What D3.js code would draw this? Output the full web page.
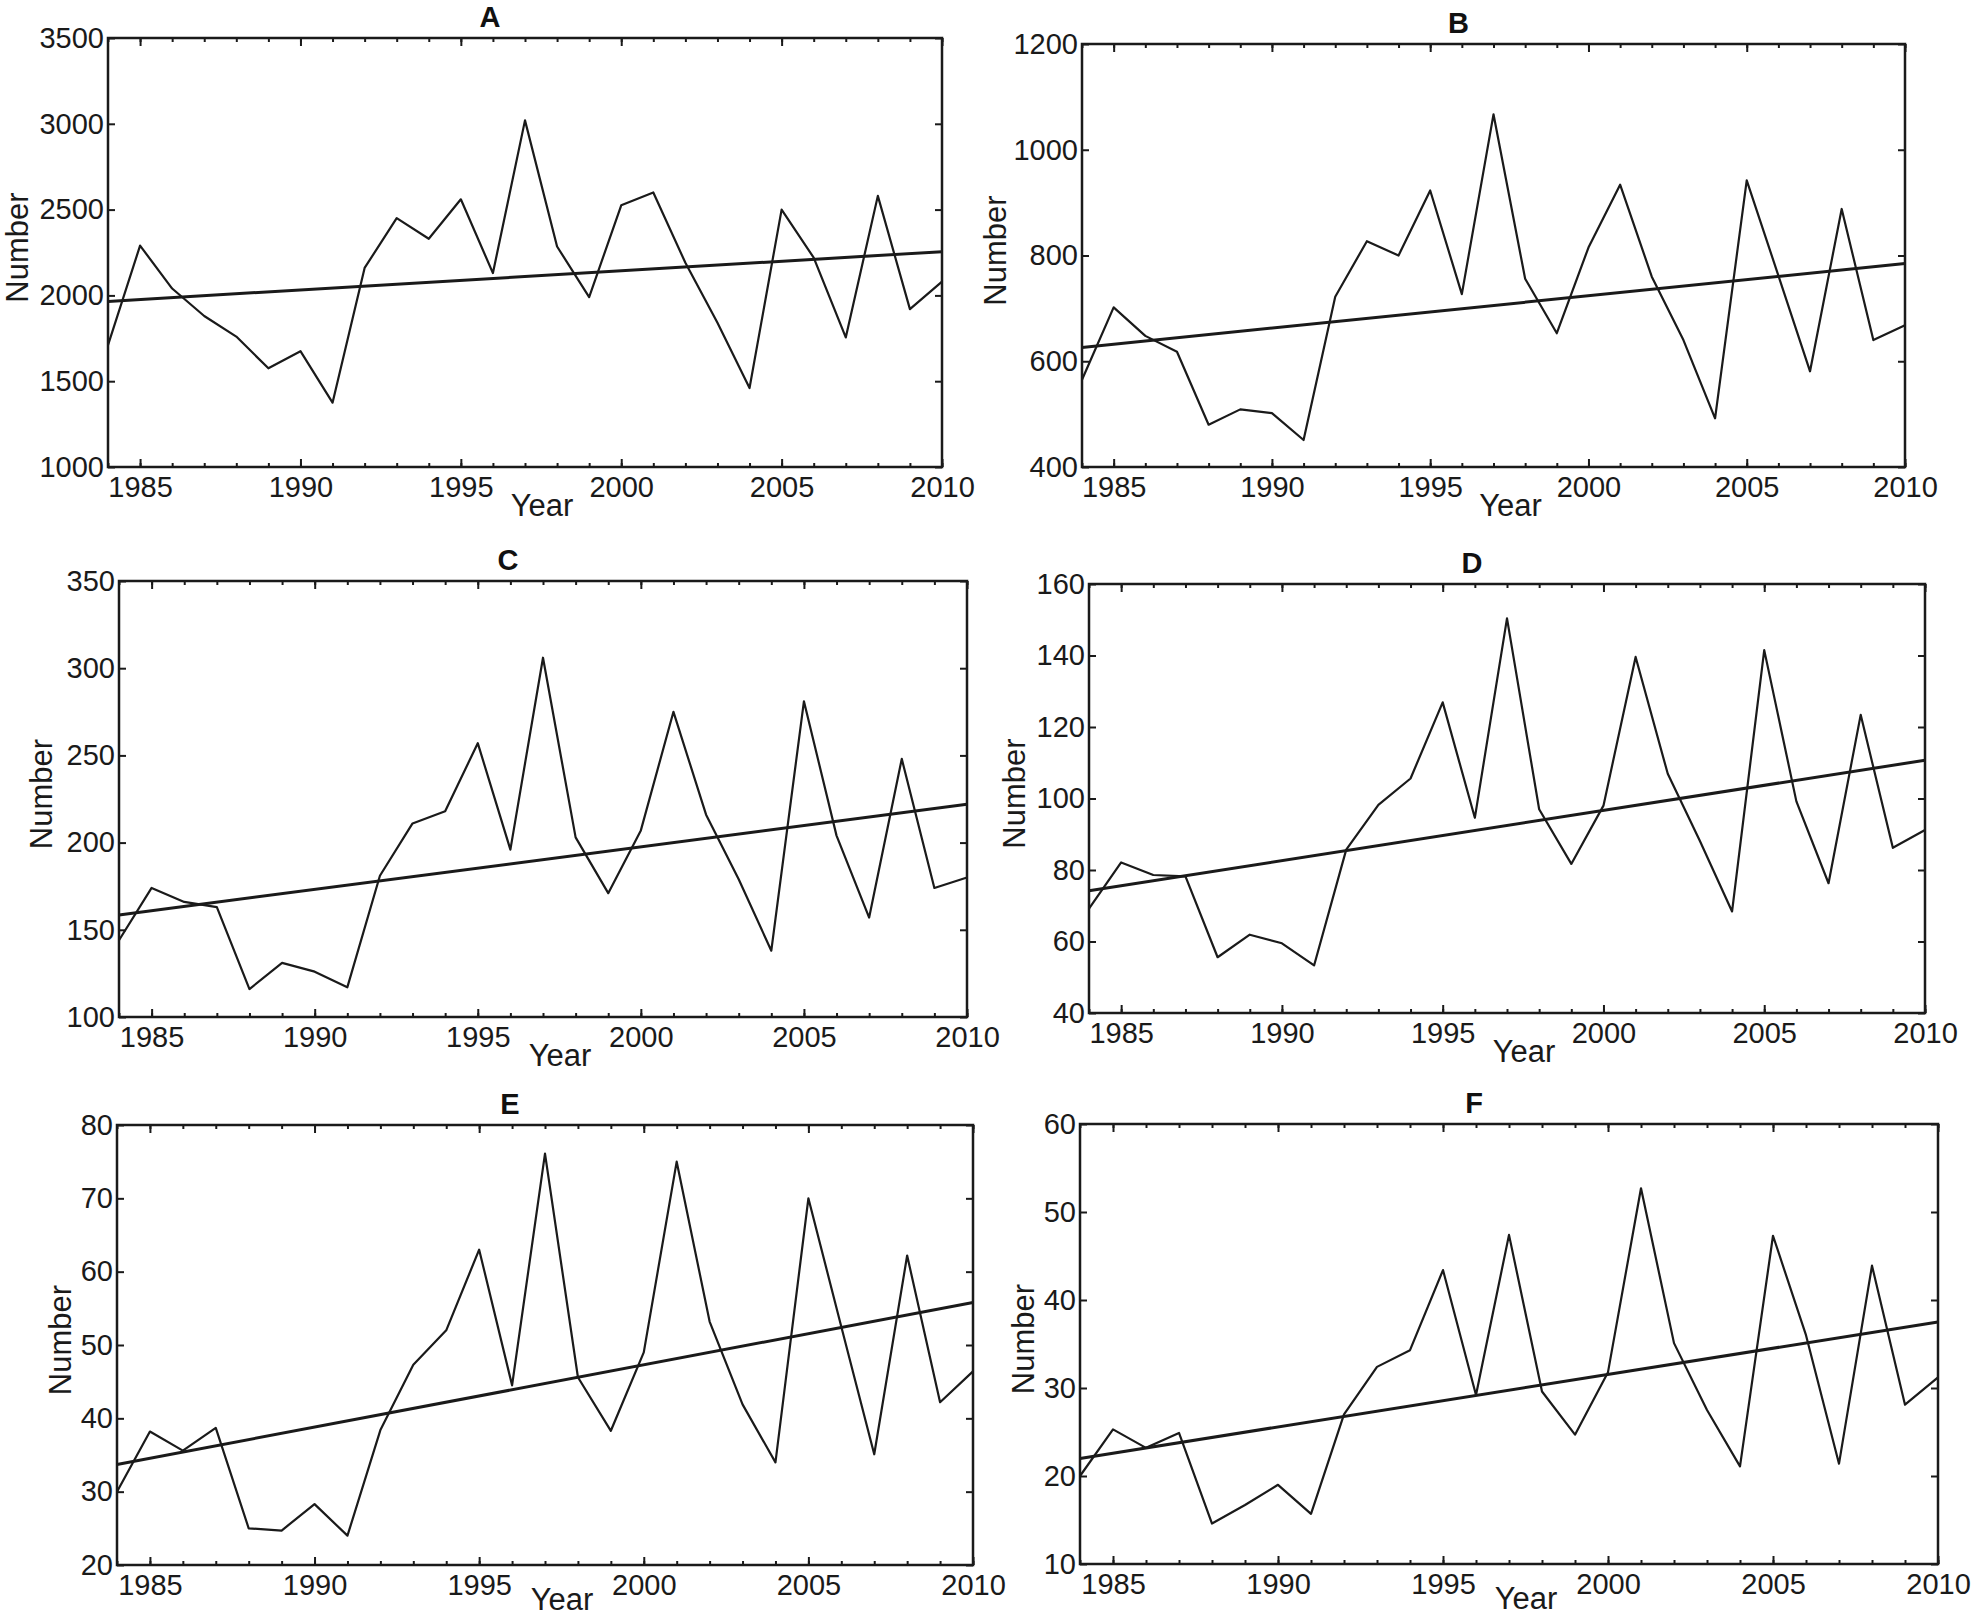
<!DOCTYPE html>
<html>
<head>
<meta http-equiv="Content-Type" content="text/html; charset=UTF-8">
<style>
body { margin: 0; background: #fff; }
.series { fill: none; stroke: #1a1a1a; stroke-width: 2.2px; stroke-linejoin: round; }
.trend { fill: none; stroke: #1a1a1a; stroke-width: 3px; }
.frame { fill: none; stroke: #1a1a1a; stroke-width: 2.5px; }
.axis path.domain { display: none; }
.axis line { stroke: #1a1a1a; stroke-width: 2px; }
.axis text { fill: #1a1a1a; font-family: "Liberation Sans", Arial, sans-serif; font-size: 29px; }
.lab { fill: #1a1a1a; font-family: "Liberation Sans", Arial, sans-serif; font-size: 31px; }
.title { fill: #111; font-family: "Liberation Sans Narrow", "Arial Narrow", "Liberation Sans", Arial, sans-serif; font-weight: bold; font-size: 29px; }
</style>
</head>
<body>
<svg width="1976" height="1618"></svg>
<script src="https://cdnjs.cloudflare.com/ajax/libs/d3/7.8.5/d3.min.js"></script>
<script>

var years = [1984, 1985, 1986, 1987, 1988, 1989, 1990, 1991, 1992, 1993, 1994, 1995, 1996, 1997,
             1998, 1999, 2000, 2001, 2002, 2003, 2004, 2005, 2006, 2007, 2008, 2009, 2010];
var xTicks = [1985, 1990, 1995, 2000, 2005, 2010];

var valuesA = [1710, 2290, 2040, 1880, 1760, 1575, 1675, 1375, 2160, 2450, 2330, 2560, 2130, 3020,
               2285, 1990, 2525, 2600, 2190, 1840, 1460, 2500, 2220, 1755, 2580, 1920, 2080];
var valuesB = [565, 702, 648, 618, 480, 509, 502, 451, 722, 827, 800, 923, 727, 1067,
               756, 653, 815, 934, 760, 640, 492, 942, 762, 581, 888, 640, 668];
var valuesC = [144, 174, 166, 163, 116, 131, 126, 117, 181, 211, 218, 257, 196, 306,
               203, 171, 207, 275, 216, 179, 138, 281, 204, 157, 248, 174, 180];
var valuesD = [69.2, 82.1, 78.6, 78.2, 55.6, 61.9, 59.5, 53.3, 85.7, 98.2, 105.6, 126.9, 94.6, 150.4,
               97.0, 81.7, 98.0, 139.6, 106.9, 88.1, 68.4, 141.5, 99.2, 76.3, 123.4, 86.2, 91.2];
var valuesE = [30.0, 38.2, 35.6, 38.7, 25.0, 24.7, 28.3, 24.0, 38.4, 47.3, 52.0, 63.0, 44.5, 76.1,
               45.6, 38.3, 49.0, 75.0, 53.2, 41.9, 34.0, 70.0, 52.5, 35.1, 62.2, 42.2, 46.4];
var valuesF = [20.0, 25.3, 23.2, 24.9, 14.6, 16.7, 19.0, 15.7, 27.0, 32.4, 34.3, 43.4, 29.2, 47.4,
               29.6, 24.7, 31.8, 52.7, 35.1, 27.5, 21.1, 47.3, 36.0, 21.4, 43.9, 28.1, 31.2];

// linear trend, value at 1984 and at 2010
var trendA = [1965, 2255];
var trendB = [626, 785];
var trendC = [158.5, 222];
var trendD = [74.2, 110.7];
var trendE = [33.7, 55.8];
var trendF = [22.0, 37.5];

var ticksA = [1000, 1500, 2000, 2500, 3000, 3500];
var ticksB = [400, 600, 800, 1000, 1200];
var ticksC = [100, 150, 200, 250, 300, 350];
var ticksD = [40, 60, 80, 100, 120, 140, 160];
var ticksE = [20, 30, 40, 50, 60, 70, 80];
var ticksF = [10, 20, 30, 40, 50, 60];

var titles = ["A", "B", "C", "D", "E", "F"];

var panels = [
  {values: valuesA, trend: trendA, ticks: ticksA, left: 108,  right: 942,  top: 38,   bottom: 467,  ylab: 91, xlab: 49},
  {values: valuesB, trend: trendB, ticks: ticksB, left: 1082, right: 1905, top: 44,   bottom: 467,  ylab: 87, xlab: 49},
  {values: valuesC, trend: trendC, ticks: ticksC, left: 119,  right: 967,  top: 581,  bottom: 1017, ylab: 78, xlab: 49},
  {values: valuesD, trend: trendD, ticks: ticksD, left: 1089, right: 1925, top: 584,  bottom: 1013, ylab: 75, xlab: 49},
  {values: valuesE, trend: trendE, ticks: ticksE, left: 117,  right: 973,  top: 1125, bottom: 1565, ylab: 57, xlab: 45},
  {values: valuesF, trend: trendF, ticks: ticksF, left: 1080, right: 1938, top: 1124, bottom: 1564, ylab: 57, xlab: 45}
];

var svg = d3.select("svg");

panels.forEach(function(p, i) {
  var g = svg.append("g");

  var x = d3.scaleLinear().domain([1984, 2010]).range([p.left, p.right]);
  var y = d3.scaleLinear().domain(d3.extent(p.ticks)).range([p.bottom, p.top]);

  // minor year ticks, top and bottom
  g.append("g").attr("class", "axis")
      .attr("transform", "translate(0," + p.bottom + ")")
      .call(d3.axisBottom(x).tickValues(years).tickSize(-4).tickFormat(""));
  g.append("g").attr("class", "axis")
      .attr("transform", "translate(0," + p.top + ")")
      .call(d3.axisTop(x).tickValues(years).tickSize(-4).tickFormat(""));

  // major ticks with labels
  g.append("g").attr("class", "axis")
      .attr("transform", "translate(0," + p.bottom + ")")
      .call(d3.axisBottom(x).tickValues(xTicks).tickSize(-8).tickPadding(9).tickFormat(d3.format("d")));
  g.append("g").attr("class", "axis")
      .attr("transform", "translate(0," + p.top + ")")
      .call(d3.axisTop(x).tickValues(xTicks).tickSize(-8).tickFormat(""));

  g.append("g").attr("class", "axis")
      .attr("transform", "translate(" + p.left + ",0)")
      .call(d3.axisLeft(y).tickValues(p.ticks).tickSize(-7).tickPadding(4).tickFormat(d3.format("d")));
  g.append("g").attr("class", "axis")
      .attr("transform", "translate(" + p.right + ",0)")
      .call(d3.axisRight(y).tickValues(p.ticks).tickSize(-7).tickFormat(""));

  g.selectAll(".axis").attr("font-size", null).attr("font-family", null);

  var line = d3.line()
      .x(function(d, j) { return x(years[j]); })
      .y(function(d) { return y(d); });

  g.append("path")
      .datum(p.values)
      .attr("class", "series")
      .attr("d", line);

  g.append("path")
      .datum(p.trend)
      .attr("class", "trend")
      .attr("d", d3.line()
          .x(function(d, j) { return x(j === 0 ? 1984 : 2010); })
          .y(function(d) { return y(d); }));

  g.append("rect")
      .attr("class", "frame")
      .attr("x", p.left)
      .attr("y", p.top)
      .attr("width", p.right - p.left)
      .attr("height", p.bottom - p.top);

  var mid = (p.left + p.right) / 2;

  g.append("text")
      .attr("class", "title")
      .attr("x", mid - 35)
      .attr("y", p.top - 11)
      .attr("text-anchor", "middle")
      .text(titles[i]);

  g.append("text")
      .attr("class", "lab")
      .attr("x", mid + 17)
      .attr("y", p.bottom + p.xlab)
      .attr("text-anchor", "middle")
      .text("Year");

  g.append("text")
      .attr("class", "lab")
      .attr("transform", "translate(" + (p.left - p.ylab + 11) + "," + ((p.top + p.bottom) / 2 - 5) + ") rotate(-90)")
      .attr("text-anchor", "middle")
      .text("Number");
});

</script>
</body></html>
